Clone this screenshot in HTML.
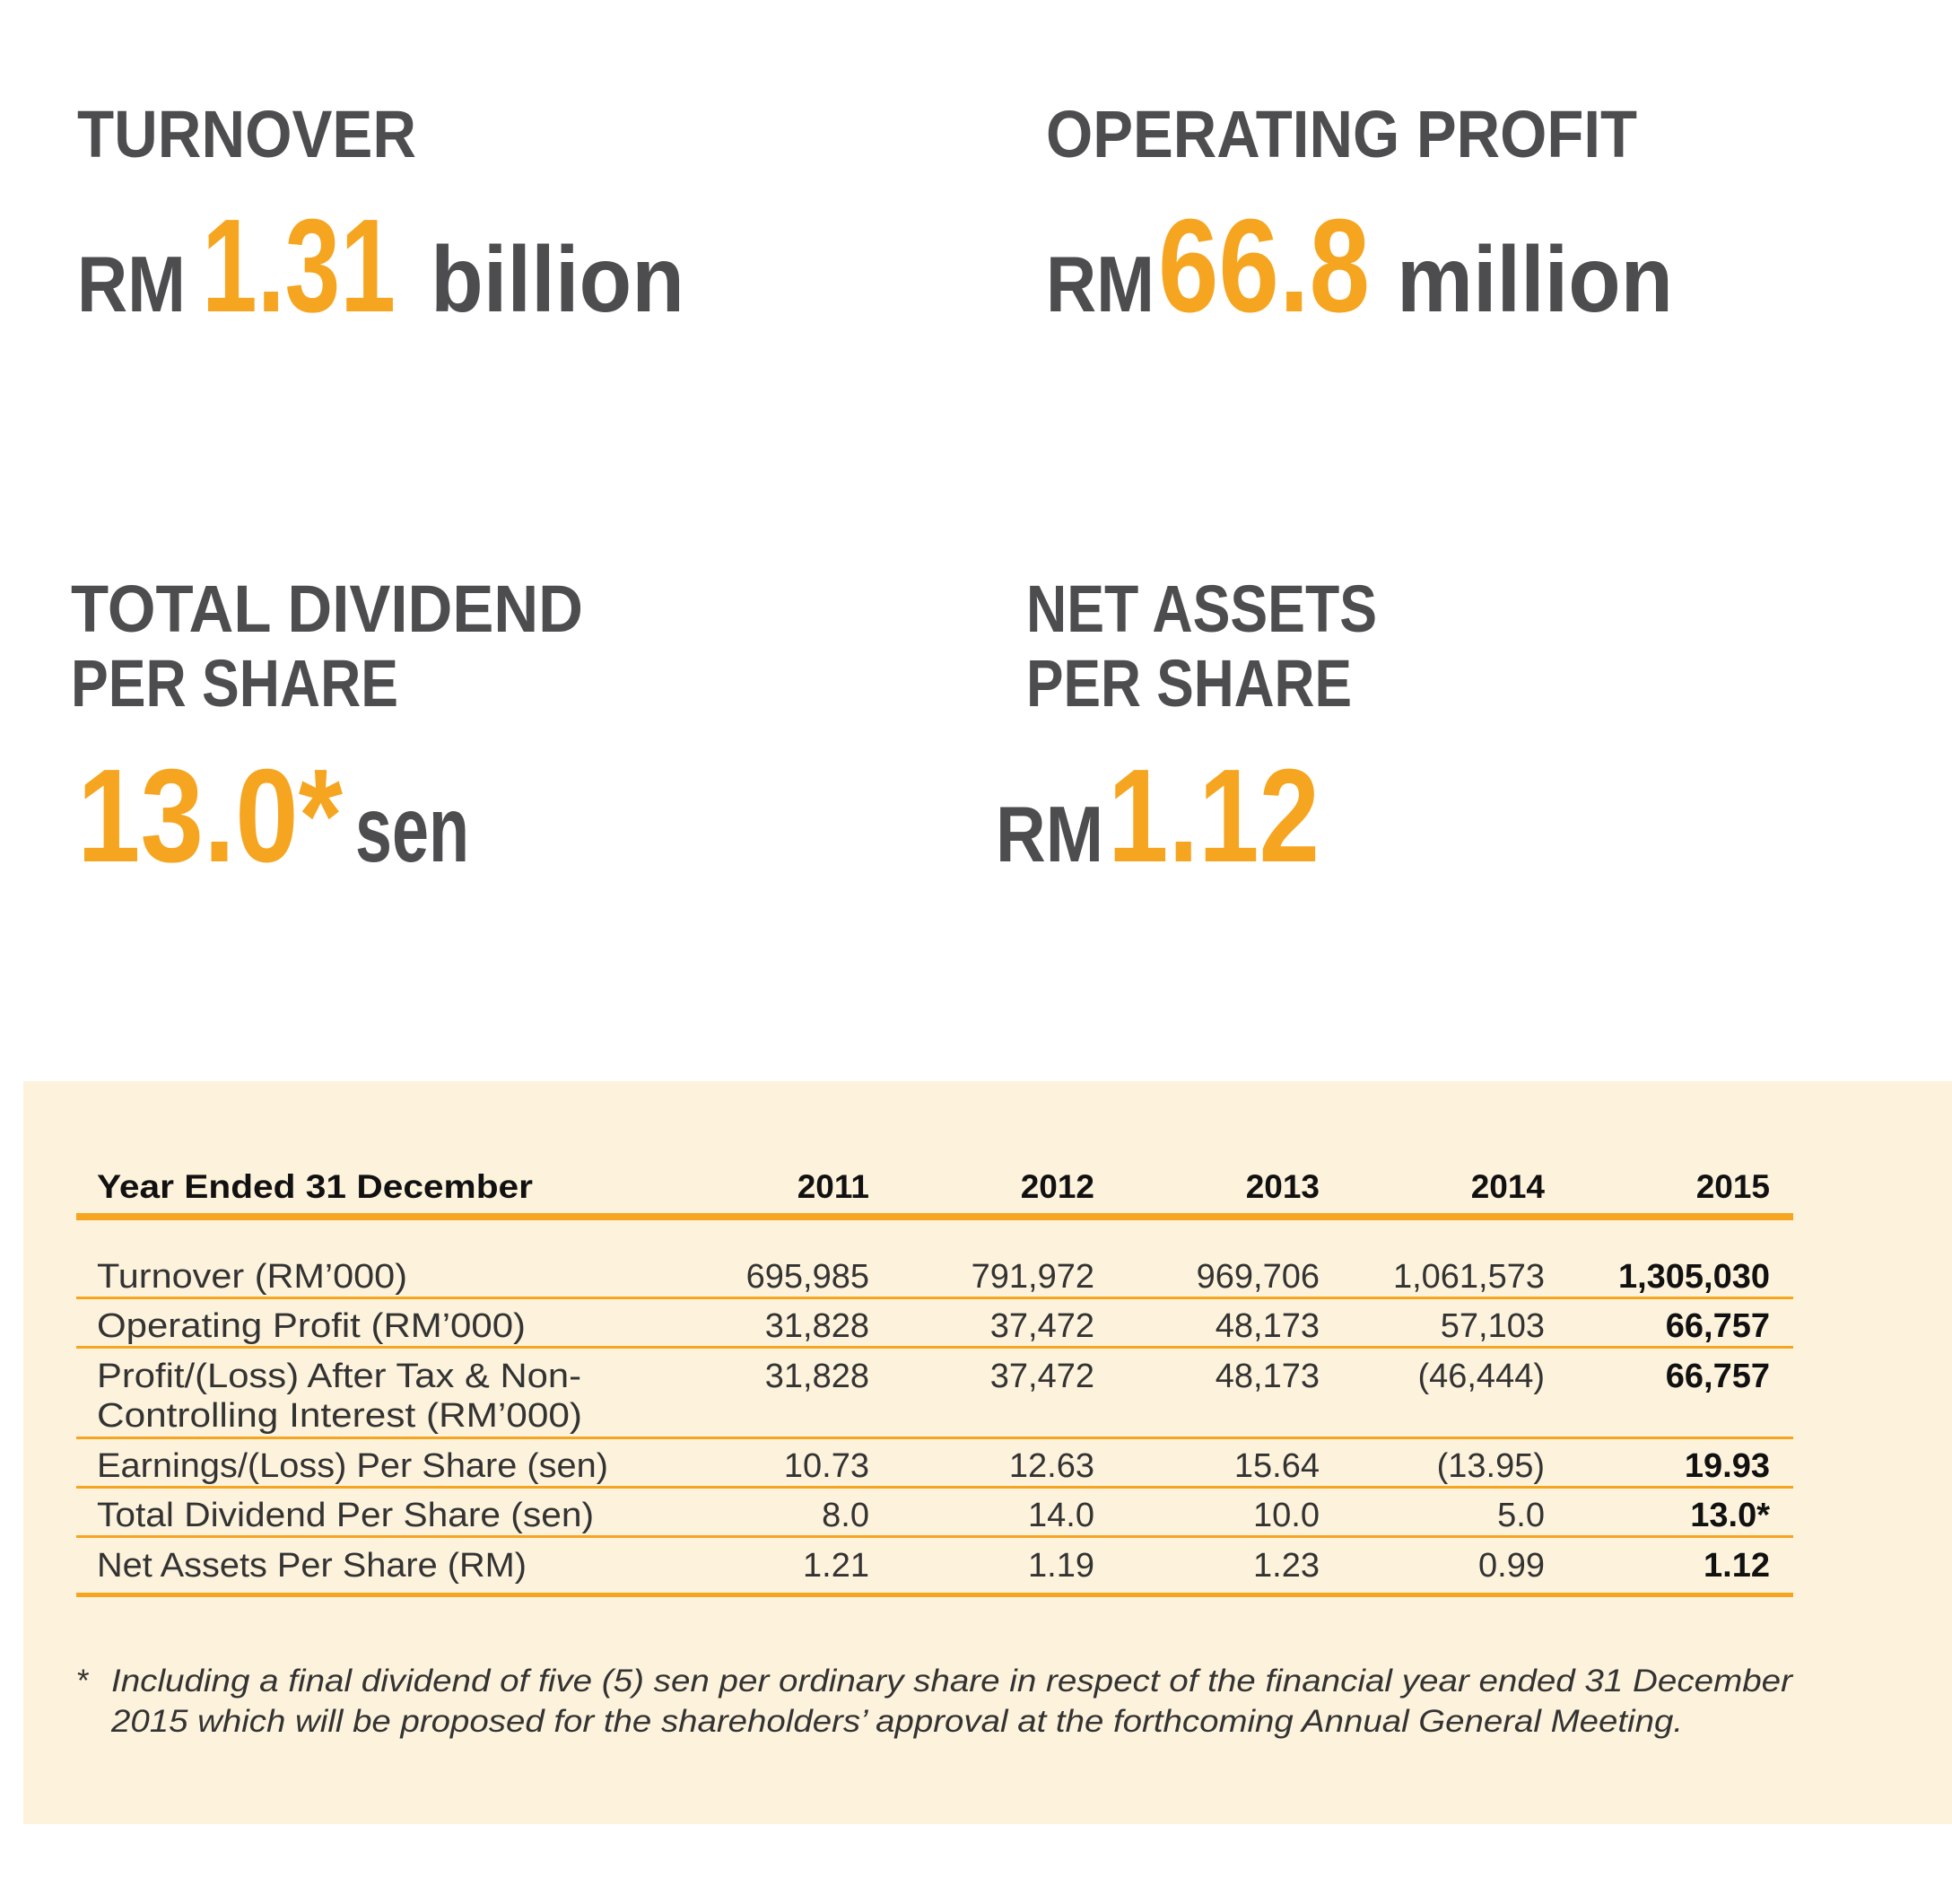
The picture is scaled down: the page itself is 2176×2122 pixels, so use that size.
<!DOCTYPE html>
<html><head><meta charset="utf-8"><style>
html,body{margin:0;padding:0;background:#fff;}
svg{display:block;}
</style></head><body>
<svg width="2176" height="2122" viewBox="0 0 2176 2122" xmlns="http://www.w3.org/2000/svg">
<rect width="2176" height="2122" fill="#fff"/>
<g font-family="Liberation Sans Narrow, Liberation Sans, sans-serif" font-weight="bold" fill="#4d4d4f">
<text x="86" y="175" font-size="74" textLength="378" lengthAdjust="spacingAndGlyphs" font-family="Liberation Sans, sans-serif">TURNOVER</text>
<text x="1166" y="175" font-size="74" textLength="659" lengthAdjust="spacingAndGlyphs" font-family="Liberation Sans, sans-serif">OPERATING PROFIT</text>
<text x="86" y="347" font-size="88" textLength="121" lengthAdjust="spacingAndGlyphs">RM</text>
<text x="225" y="347" font-size="148" fill="#f6a520" textLength="216" lengthAdjust="spacingAndGlyphs">1.31</text>
<text x="480" y="347" font-size="104" textLength="283" lengthAdjust="spacingAndGlyphs">billion</text>
<text x="1166" y="347" font-size="88" textLength="121" lengthAdjust="spacingAndGlyphs">RM</text>
<text x="1291" y="347" font-size="148" fill="#f6a520" textLength="236" lengthAdjust="spacingAndGlyphs">66.8</text>
<text x="1557" y="347" font-size="104" textLength="308" lengthAdjust="spacingAndGlyphs">million</text>
<text x="79" y="704" font-size="74" textLength="571" lengthAdjust="spacingAndGlyphs" font-family="Liberation Sans, sans-serif">TOTAL DIVIDEND</text>
<text x="79" y="787" font-size="74" textLength="365" lengthAdjust="spacingAndGlyphs" font-family="Liberation Sans, sans-serif">PER SHARE</text>
<text x="1144" y="704" font-size="74" textLength="391" lengthAdjust="spacingAndGlyphs" font-family="Liberation Sans, sans-serif">NET ASSETS</text>
<text x="1144" y="787" font-size="74" textLength="363" lengthAdjust="spacingAndGlyphs" font-family="Liberation Sans, sans-serif">PER SHARE</text>
<text x="86" y="960" font-size="148" fill="#f6a520" textLength="296" lengthAdjust="spacingAndGlyphs">13.0*</text>
<text x="396" y="960" font-size="104" textLength="127" lengthAdjust="spacingAndGlyphs">sen</text>
<text x="1110" y="960" font-size="88" textLength="120" lengthAdjust="spacingAndGlyphs">RM</text>
<text x="1235" y="960" font-size="148" fill="#f6a520" textLength="236" lengthAdjust="spacingAndGlyphs">1.12</text>
</g>
<rect x="26" y="1205" width="2150" height="828" fill="#fdf3dc"/>
<g font-family="Liberation Sans, sans-serif" font-size="37" fill="#111">
<g font-weight="bold">
<text x="108" y="1335" textLength="486" lengthAdjust="spacingAndGlyphs">Year Ended 31 December</text>
<g text-anchor="end">
<text x="969" y="1335">2011</text><text x="1220" y="1335">2012</text><text x="1471" y="1335">2013</text><text x="1722" y="1335">2014</text><text x="1973" y="1335">2015</text>
</g></g>
<rect x="85" y="1352" width="1914" height="8" fill="#f6a520"/>
<g fill="#f6a520">
<rect x="85" y="1445" width="1914" height="3"/><rect x="85" y="1500" width="1914" height="3"/>
<rect x="85" y="1601" width="1914" height="3"/><rect x="85" y="1656" width="1914" height="3"/>
<rect x="85" y="1711" width="1914" height="3"/><rect x="85" y="1775" width="1914" height="5"/>
</g>
<g fill="#333" font-size="38">
<text x="108" y="1435" textLength="346" lengthAdjust="spacingAndGlyphs">Turnover (RM’000)</text>
<text x="108" y="1490" textLength="478" lengthAdjust="spacingAndGlyphs">Operating Profit (RM’000)</text>
<text x="108" y="1546" textLength="540" lengthAdjust="spacingAndGlyphs">Profit/(Loss) After Tax &amp; Non-</text>
<text x="108" y="1590" textLength="541" lengthAdjust="spacingAndGlyphs">Controlling Interest (RM’000)</text>
<text x="108" y="1646" textLength="570" lengthAdjust="spacingAndGlyphs">Earnings/(Loss) Per Share (sen)</text>
<text x="108" y="1701" textLength="554" lengthAdjust="spacingAndGlyphs">Total Dividend Per Share (sen)</text>
<text x="108" y="1757" textLength="479" lengthAdjust="spacingAndGlyphs">Net Assets Per Share (RM)</text>
<g text-anchor="end">
<text x="969" y="1435">695,985</text><text x="1220" y="1435">791,972</text><text x="1471" y="1435">969,706</text><text x="1722" y="1435">1,061,573</text>
<text x="969" y="1490">31,828</text><text x="1220" y="1490">37,472</text><text x="1471" y="1490">48,173</text><text x="1722" y="1490">57,103</text>
<text x="969" y="1546">31,828</text><text x="1220" y="1546">37,472</text><text x="1471" y="1546">48,173</text><text x="1722" y="1546">(46,444)</text>
<text x="969" y="1646">10.73</text><text x="1220" y="1646">12.63</text><text x="1471" y="1646">15.64</text><text x="1722" y="1646">(13.95)</text>
<text x="969" y="1701">8.0</text><text x="1220" y="1701">14.0</text><text x="1471" y="1701">10.0</text><text x="1722" y="1701">5.0</text>
<text x="969" y="1757">1.21</text><text x="1220" y="1757">1.19</text><text x="1471" y="1757">1.23</text><text x="1722" y="1757">0.99</text>
<g font-weight="bold" fill="#111">
<text x="1973" y="1435">1,305,030</text><text x="1973" y="1490">66,757</text><text x="1973" y="1546">66,757</text>
<text x="1973" y="1646">19.93</text><text x="1973" y="1701">13.0*</text><text x="1973" y="1757">1.12</text>
</g></g></g>
<g fill="#333" font-size="35" font-style="italic">
<text x="86" y="1885" font-style="normal">*</text>
<text x="124" y="1885" textLength="1874" lengthAdjust="spacingAndGlyphs">Including a final dividend of five (5) sen per ordinary share in respect of the financial year ended 31 December</text>
<text x="124" y="1930" textLength="1752" lengthAdjust="spacingAndGlyphs">2015 which will be proposed for the shareholders’ approval at the forthcoming Annual General Meeting.</text>
</g>
</g>
</svg>
</body></html>
